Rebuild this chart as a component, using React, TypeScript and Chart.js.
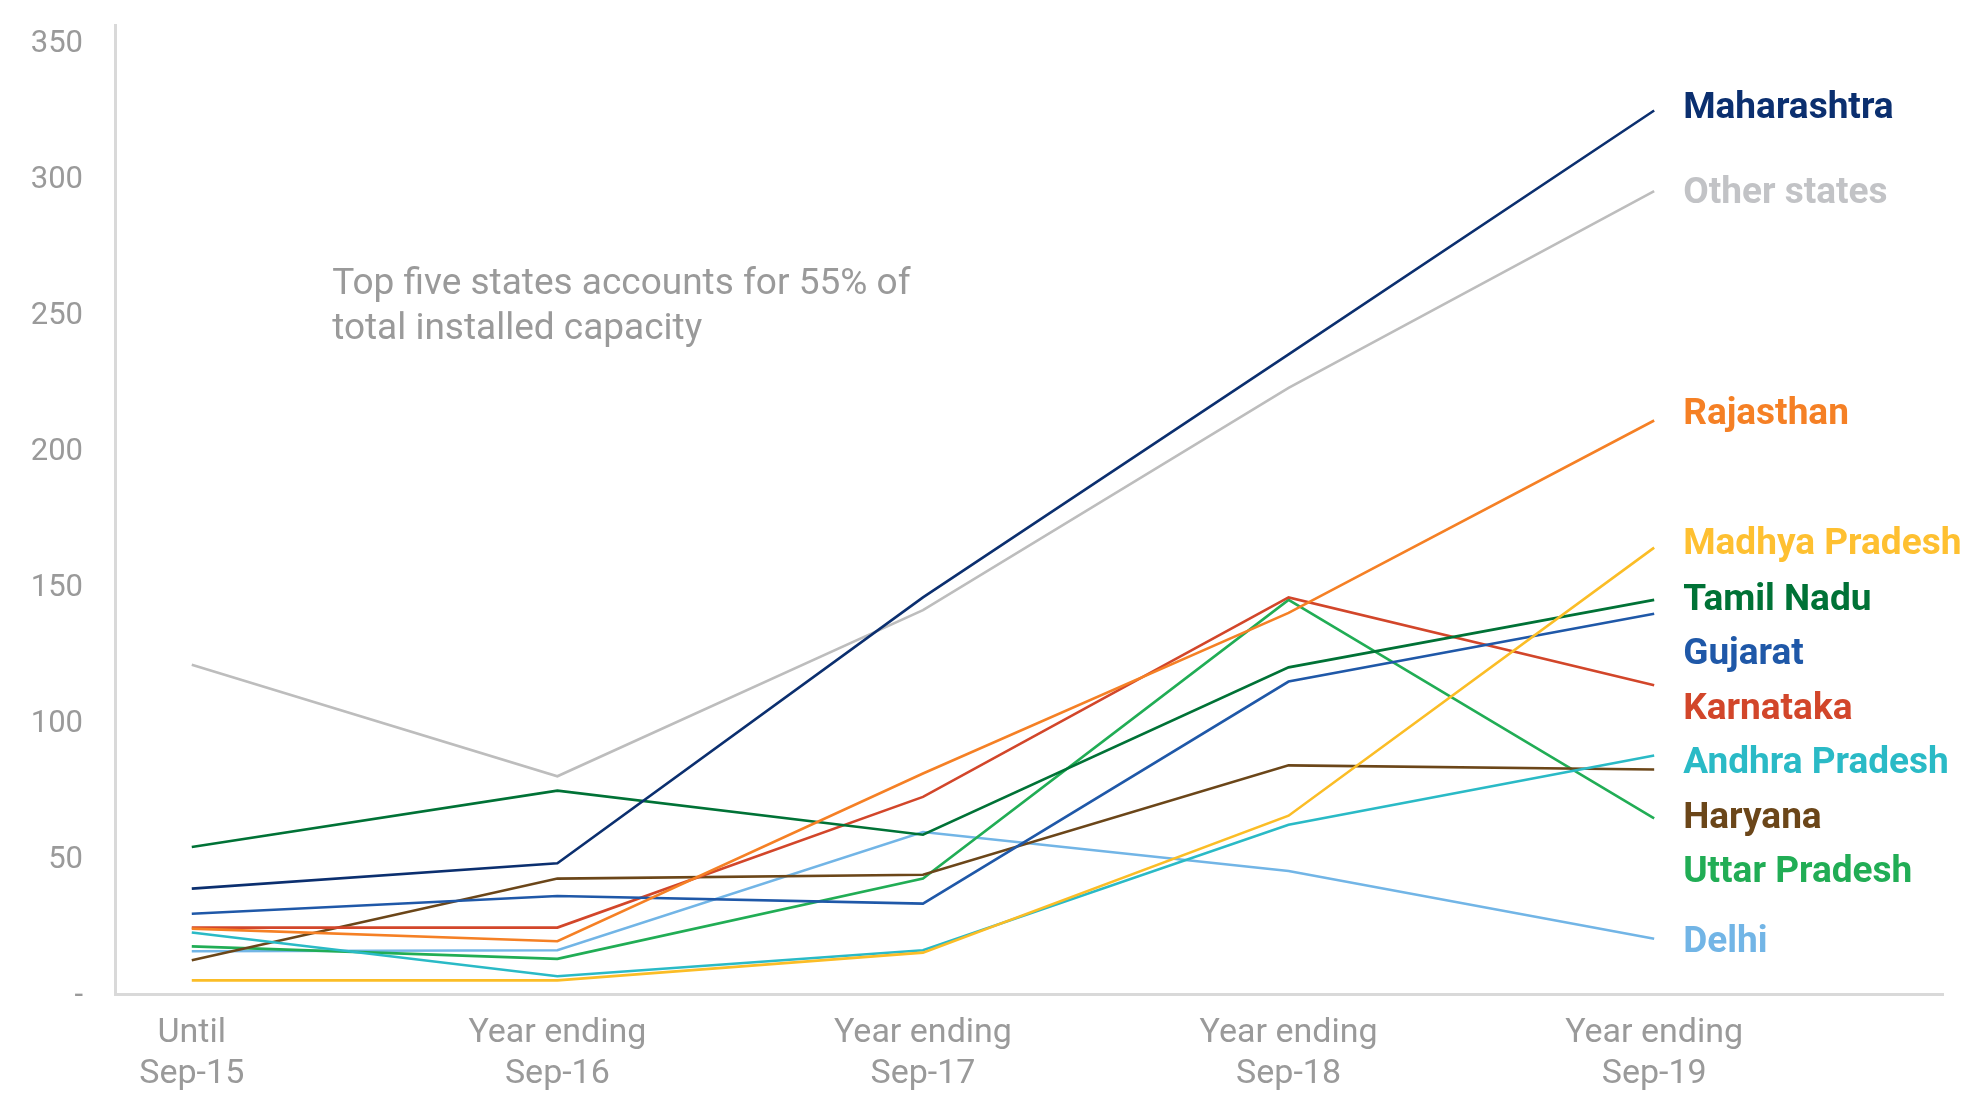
import React, { useEffect, useRef } from "react";
import { Chart, registerables } from "chart.js";

Chart.register(...registerables);

const periods: string[][] = [
  ["Until", "Sep-15"],
  ["Year ending", "Sep-16"],
  ["Year ending", "Sep-17"],
  ["Year ending", "Sep-18"],
  ["Year ending", "Sep-19"],
];

const yTicks = [0, 50, 100, 150, 200, 250, 300, 350];

const maharashtra = [38.7, 48, 145.7, 235, 324.6];
const otherStates = [121, 80, 141, 222.7, 295];
const rajasthan = [24, 19.4, 81, 140, 210.7];
const madhyaPradesh = [5, 5, 15.2, 65.5, 164];
const tamilNadu = [54, 74.7, 58.5, 120, 144.8];
const gujarat = [29.5, 36, 33.2, 114.8, 139.7];
const karnataka = [24.4, 24.4, 72.4, 145.7, 113.4];
const andhraPradesh = [22.6, 6.5, 16.1, 62.2, 87.6];
const haryana = [12.4, 42.4, 43.8, 84, 82.5];
const uttarPradesh = [17.5, 12.9, 42.4, 144.8, 64.5];
const delhi = [15.7, 16.1, 59.5, 45.2, 20.3];

const seriesNames = [
  "Maharashtra",
  "Other states",
  "Rajasthan",
  "Madhya Pradesh",
  "Tamil Nadu",
  "Gujarat",
  "Karnataka",
  "Andhra Pradesh",
  "Haryana",
  "Uttar Pradesh",
  "Delhi",
];
const seriesValues = [
  maharashtra,
  otherStates,
  rajasthan,
  madhyaPradesh,
  tamilNadu,
  gujarat,
  karnataka,
  andhraPradesh,
  haryana,
  uttarPradesh,
  delhi,
];
const lineColors = [
  "#0b2f6f",
  "#bdbdbd",
  "#f58025",
  "#fbbd26",
  "#007236",
  "#1f58a8",
  "#d2462a",
  "#2abac6",
  "#6b4619",
  "#21ad55",
  "#72b5e6",
];
const labelColors = [
  "#0b2f6f",
  "#c2c3c6",
  "#f58025",
  "#fec031",
  "#007236",
  "#1f58a8",
  "#d2462a",
  "#2abac6",
  "#6b4619",
  "#21ad55",
  "#72b5e6",
];
// label anchor (in data units) for the end-of-line name labels
const labelValues = [326.4, 295, 214, 166, 145.7, 125.9, 105.6, 85.8, 65.5, 45.6, 19.8];

const annotationLines = ["Top five states accounts for 55% of", "total installed capacity"];
const annotationAnchor = { x: 0.384, y: 262 };

const FONT = "Roboto, 'DejaVu Sans', sans-serif";

export default function App() {
  const canvasRef = useRef<HTMLCanvasElement | null>(null);

  useEffect(() => {
    document.body.style.margin = "0";
    const canvas = canvasRef.current;
    if (!canvas) return;

    const labelsPlugin = {
      id: "endLabels",
      afterDatasetsDraw(chart: any) {
        const ctx = chart.ctx;
        const xs = chart.scales.x;
        const ys = chart.scales.y;
        ctx.save();
        ctx.font = `bold 37px ${FONT}`;
        ctx.textAlign = "left";
        ctx.textBaseline = "middle";
        const xEnd = xs.getPixelForValue(periods.length - 1) + 29;
        seriesNames.forEach((name, i) => {
          ctx.fillStyle = labelColors[i];
          ctx.fillText(name, xEnd, ys.getPixelForValue(labelValues[i]) + 3);
        });
        ctx.font = `37px ${FONT}`;
        ctx.fillStyle = "#9a9a9a";
        const ax = xs.getPixelForValue(annotationAnchor.x);
        const ay = ys.getPixelForValue(annotationAnchor.y) + 4;
        annotationLines.forEach((t, i) => {
          ctx.fillText(t, ax, ay + i * 45);
        });
        ctx.restore();
      },
    };

    const chart = new Chart(canvas, {
      type: "line",
      data: {
        datasets: seriesNames.map((name, i) => ({
          label: name,
          data: seriesValues[i].map((v, j) => ({ x: j, y: v })),
          borderColor: lineColors[i],
          backgroundColor: lineColors[i],
          borderWidth: 2.6,
          pointRadius: 0,
          tension: 0,
          fill: false,
        })),
      },
      options: {
        animation: false,
        responsive: true,
        maintainAspectRatio: false,
        devicePixelRatio: 1,
        layout: { padding: { top: 25, right: 22, left: 0, bottom: 0 } },
        plugins: {
          legend: { display: false },
          tooltip: { enabled: false },
        },
        scales: {
          x: {
            type: "linear",
            min: -0.21,
            max: 4.79,
            grid: { display: false, drawTicks: false },
            border: { display: true, color: "#d9d9d9", width: 3 },
            afterBuildTicks: (scale: any) => {
              scale.ticks = periods.map((_, i) => ({ value: i }));
            },
            afterFit: (scale: any) => {
              scale.height = 106;
              scale.paddingLeft = 0;
              scale.paddingRight = 0;
            },
            ticks: {
              autoSkip: false,
              maxRotation: 0,
              padding: 19,
              color: "#9a9a9a",
              font: { family: FONT, size: 34, lineHeight: 1.2 },
              callback: (v: any) => periods[Math.round(Number(v))] ?? "",
            },
          },
          y: {
            type: "linear",
            min: 0,
            max: 356,
            grid: { display: false, drawTicks: false },
            border: { display: true, color: "#d9d9d9", width: 3 },
            afterBuildTicks: (scale: any) => {
              scale.ticks = yTicks.map((v) => ({ value: v }));
            },
            afterFit: (scale: any) => {
              scale.width = 115;
              scale.paddingTop = 0;
              scale.paddingBottom = 0;
            },
            ticks: {
              padding: 32,
              labelOffset: 2.5,
              color: "#9a9a9a",
              font: { family: FONT, size: 31 },
              callback: (v: any) => (Number(v) === 0 ? "-" : String(v)),
            },
          },
        },
      },
      plugins: [labelsPlugin],
    });

    return () => chart.destroy();
  }, []);

  return (
    <div style={{ width: "1965px", height: "1100px", position: "relative" }}>
      <canvas ref={canvasRef} />
    </div>
  );
}
